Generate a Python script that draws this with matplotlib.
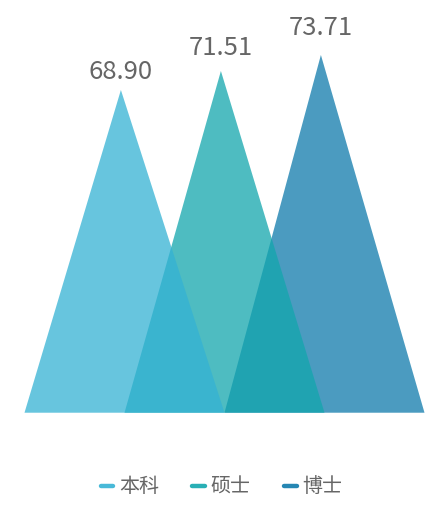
import matplotlib
matplotlib.use("Agg")
import matplotlib.pyplot as plt
from matplotlib.patches import Polygon
from matplotlib.lines import Line2D

plt.rcParams['font.family'] = ['Noto Sans CJK SC', 'DejaVu Sans']

# Data
categories = ['本科', '硕士', '博士']
values = [68.90, 71.51, 73.71]
colors = ['#34b2d4', '#12a6ad', '#0e7aab']

BASE = 24.55          # value where the triangles sit
HALF_WIDTH = 1.0      # half base width, in category units
SKEW = 0.036          # apex shift to the left
ALPHA = 0.75

fig = plt.figure(figsize=(4.27, 5.05), dpi=100)
ax = fig.add_axes([0, 0, 1, 1])
ax.set_xlim(-1.245, 3.025)
ax.set_ylim(11.87, 81.26)
ax.axis('off')

n = len(values)
vmin = min(values)
for i, (cat, v, c) in enumerate(zip(categories, values, colors)):
    tri = Polygon([(i - HALF_WIDTH, BASE), (i + HALF_WIDTH, BASE), (i - SKEW, v)],
                  closed=True, facecolor=c, edgecolor='none', alpha=ALPHA,
                  zorder=10 + (n - i))
    ax.add_patch(tri)
    # labels rise a little faster than the apexes
    gap = 10.7 + 1.95 * (v - vmin)
    ax.annotate(f'{v:.2f}', xy=(i - SKEW, v), xytext=(0, gap),
                textcoords='offset pixels', ha='center', va='baseline',
                fontsize=18.5, color='#666666', zorder=20)

handles = [Line2D([], [], color=c, alpha=0.9, lw=3.2, solid_capstyle='round')
           for c in colors]
fig.legend(handles, categories, loc='center', bbox_to_anchor=(0.519, 1 - 487 / 505),
           ncol=3, frameon=False, fontsize=14.4, labelcolor='#666666',
           handlelength=0.62, handletextpad=0.3, columnspacing=1.67,
           borderpad=0, borderaxespad=0)

fig.savefig('out.png', dpi=100)
